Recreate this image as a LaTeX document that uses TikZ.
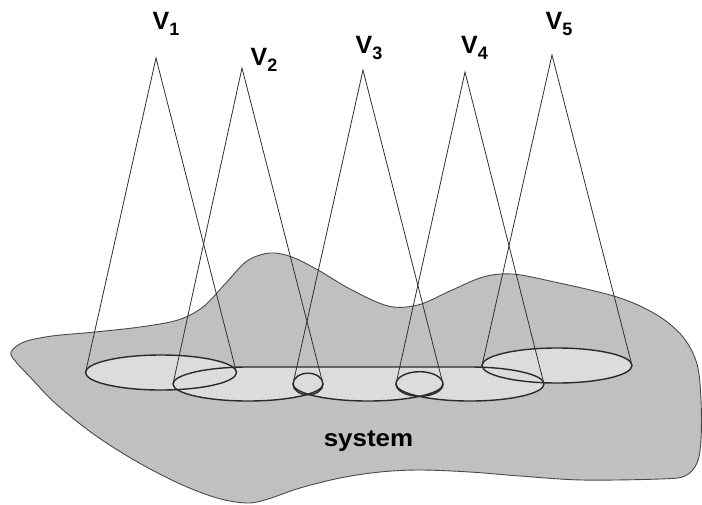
\documentclass[tikz,border=0pt]{standalone}
\usepackage{fontspec}
\setmainfont{Liberation Sans}
\definecolor{blobgray}{HTML}{C0C0C0}
\definecolor{basegray}{HTML}{DCDCDC}
\definecolor{rimcol}{HTML}{2A2A2A}
\definecolor{edgecol}{HTML}{4A4A4A}
\definecolor{raycol}{HTML}{303030}
\newcommand\lowsub[1]{\raisebox{-0.27em}{\fontsize{18}{18}\selectfont #1}}
\begin{document}
\begin{tikzpicture}[x=1pt,y=-1pt,
  blob/.style={fill=blobgray, draw=edgecol, line width=0.9pt},
  basefill/.style={fill=basegray},
  rim/.style={draw=rimcol, line width=1.4pt},
  ray/.style={draw=raycol, line width=0.8pt},
  vlabel/.style={font=\fontsize{25}{25}\selectfont\bfseries, inner sep=0pt},
  syslabel/.style={font=\fontsize{24}{24}\selectfont\bfseries, inner sep=0pt}
]
\useasboundingbox (0,0) rectangle (702,504);

% the system region
\draw[blob] plot[smooth cycle, tension=0.55] coordinates {
 (11,352) (24,342) (52,336) (95,332) (140,327) (178,320) (203,307)
 (225,284) (247,261) (270,253) (292,257) (318,270) (350,289) (388,306)
 (418,305) (450,291) (483,277) (512,274) (550,281) (617,297) (657,315)
 (683,337) (697,364) (701,400) (701,440) (697,463) (685,476) (660,479)
 (582,480) (520,476) (470,472) (420,470) (380,472) (340,478) (300,488)
 (268,499) (247,503) (217,498) (178,483) (134,460) (92,433) (55,403)
 (30,377) (16,362)};

% apex and base points
\coordinate (a1) at (156,58);
\coordinate (a2) at (242,68);
\coordinate (a3) at (363,70);
\coordinate (a4) at (465,72);
\coordinate (a5) at (552,55);
\coordinate (b1l) at (85.5,372.5);
\coordinate (b1r) at (236.5,372.5);
\coordinate (b2l) at (173,384);
\coordinate (s1l) at (293,384);
\coordinate (s1r) at (323,384);
\coordinate (s2l) at (396,384);
\coordinate (s2r) at (443,384);
\coordinate (b4r) at (544,384);
\coordinate (b5l) at (482,365.5);
\coordinate (b5r) at (632,365.5);

% base fills
\fill[basefill] (161,372.5) ellipse [x radius=75.5pt, y radius=17.5pt];
\fill[basefill] (557,365.5) ellipse [x radius=75pt, y radius=17.5pt];
\fill[basefill] (248,384) ellipse [x radius=75pt, y radius=17pt];
\fill[basefill] (368,384) ellipse [x radius=75pt, y radius=17pt];
\fill[basefill] (470,384) ellipse [x radius=74pt, y radius=17pt];
\fill[basefill] (248,367) rectangle (470,384);

% base rims
\draw[rim] (161,372.5) ellipse [x radius=75.5pt, y radius=17.5pt];
\draw[rim] (557,365.5) ellipse [x radius=75pt, y radius=17.5pt];
\draw[rim] (b2l) arc [start angle=180, end angle=90, x radius=75pt, y radius=17pt]
   -- (470,367) arc [start angle=90, end angle=0, x radius=74pt, y radius=17pt];
\draw[rim] (b2l) arc [start angle=180, end angle=360, x radius=75pt, y radius=17pt];
\draw[rim] (s1l) arc [start angle=180, end angle=360, x radius=75pt, y radius=17pt];
\draw[rim] (s2l) arc [start angle=180, end angle=360, x radius=74pt, y radius=17pt];
\draw[rim] (308,384) ellipse [x radius=15pt, y radius=10.8pt];
\draw[rim] (419.5,384) ellipse [x radius=23.5pt, y radius=12.3pt];

% viewing cones
\draw[ray] (b1l) -- (a1) -- (b1r);
\draw[ray] (b2l) -- (a2) -- (s1r);
\draw[ray] (s1l) -- (a3) -- (s2r);
\draw[ray] (s2l) -- (a4) -- (b4r);
\draw[ray] (b5l) -- (a5) -- (b5r);

% labels
\node[vlabel] (v1) at (166,24) {V\lowsub{1}};
\node[vlabel] (v2) at (264,60) {V\lowsub{2}};
\node[vlabel] (v3) at (369,48) {V\lowsub{3}};
\node[vlabel] (v4) at (474.5,48) {V\lowsub{4}};
\node[vlabel] (v5) at (559,24) {V\lowsub{5}};
\node[syslabel, xscale=1.08] (sys) at (368.5,441) {system};
\end{tikzpicture}
\end{document}
